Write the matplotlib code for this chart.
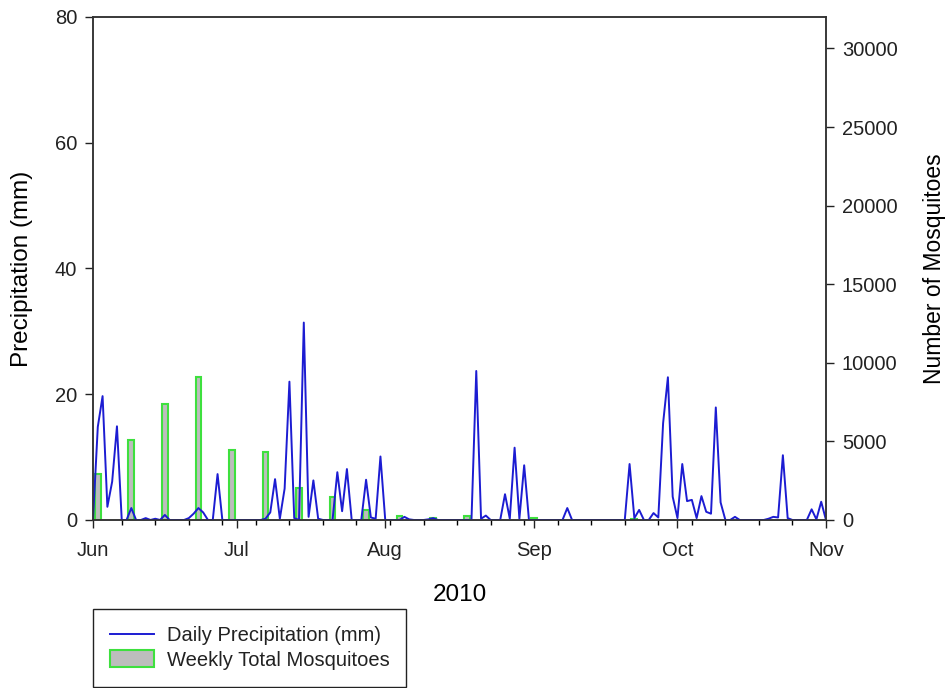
import matplotlib
matplotlib.use("Agg")
import matplotlib.pyplot as plt
import matplotlib.dates as mdates
import numpy as np
import pandas as pd

# daily precipitation (mm), 1 Jun 2010 .. 1 Nov 2010
precip = [
    0, 14.8, 19.7, 2.1, 6.1, 14.9, 0, 0, 1.9, 0,            # Jun 1-10
    0, 0.3, 0, 0.2, 0, 0.8, 0, 0, 0, 0,                    # Jun 11-20
    0.3, 1.0, 1.9, 1.2, 0, 0, 7.3, 0, 0, 0,                # Jun 21-30
    0, 0, 0, 0, 0, 0, 0.2, 1.2, 6.5, 0.2,                  # Jul 1-10
    5.0, 22.0, 0.3, 0, 31.4, 0.5, 6.3, 0.2, 0, 0,          # Jul 11-20
    0, 7.6, 1.4, 8.1, 0, 0, 0, 6.4, 0.4, 0.2, 10.1,        # Jul 21-31
    0, 0, 0, 0, 0.5, 0.1, 0, 0, 0, 0.1,                    # Aug 1-10
    0.3, 0, 0, 0, 0, 0, 0, 0, 0, 23.7,                     # Aug 11-20
    0.2, 0.7, 0, 0, 0, 4.1, 0.2, 11.5, 0.2, 8.7, 0,        # Aug 21-31
    0, 0, 0, 0, 0, 0, 0, 1.9, 0, 0,                        # Sep 1-10
    0, 0, 0, 0, 0, 0, 0, 0, 0, 0,                          # Sep 11-20
    8.9, 0.3, 1.6, 0, 0, 1.1, 0.4, 15.4, 22.7, 3.7,        # Sep 21-30
    0.3, 8.9, 3.0, 3.2, 0.3, 3.8, 1.3, 1.0, 17.9, 2.8,     # Oct 1-10
    0, 0, 0.5, 0, 0, 0, 0, 0, 0, 0.2,                      # Oct 11-20
    0.5, 0.4, 10.3, 0.3, 0, 0, 0, 0, 1.7, 0.1, 2.9,        # Oct 21-31
    0,                                                     # Nov 1
]
days = pd.date_range("2010-06-01", periods=len(precip), freq="D")

# weekly total mosquitoes
week_dates = pd.to_datetime([
    "2010-06-02", "2010-06-09", "2010-06-16", "2010-06-23", "2010-06-30",
    "2010-07-07", "2010-07-14", "2010-07-21", "2010-07-28", "2010-08-04",
    "2010-08-11", "2010-08-18", "2010-09-01", "2010-09-22",
])
mosquitoes = [2900, 5090, 7380, 9110, 4450, 4350, 2010, 1460, 640, 230,
              150, 230, 100, 60]

plt.rcParams["font.family"] = ["Liberation Sans", "DejaVu Sans"]
plt.rcParams["text.color"] = "#222222"

fig = plt.figure(figsize=(9.48, 6.88), dpi=100)
ax = fig.add_axes([0.0981, 0.2442, 0.7732, 0.7311])
ax2 = ax.twinx()

bars = ax2.bar(week_dates, mosquitoes, width=1.2, color="#bdbdbd",
               edgecolor="#3ee03e", linewidth=1.5,
               label="Weekly Total Mosquitoes")
line, = ax.plot(days, precip, color="#1c1cd2", lw=1.4,
                label="Daily Precipitation (mm)")

# line above the bars
ax.set_zorder(ax2.get_zorder() + 1)
ax.patch.set_visible(False)

ax.set_xlim(pd.Timestamp("2010-06-01"), pd.Timestamp("2010-11-01"))
ax.set_ylim(0, 80)
ax2.set_ylim(0, 32000)
ax.set_yticks([0, 20, 40, 60, 80])
ax2.set_yticks(np.arange(0, 30001, 5000))

ax.xaxis.set_major_locator(mdates.MonthLocator())
ax.xaxis.set_major_formatter(mdates.DateFormatter("%b"))
ax.xaxis.set_minor_locator(mdates.WeekdayLocator(byweekday=mdates.MO))

ax.tick_params(axis="x", which="major", length=6, width=1, pad=9,
               labelsize=14.5, colors="#222222")
ax.tick_params(axis="x", which="minor", length=3.5, width=1)
ax.tick_params(axis="y", length=5.5, width=1, labelsize=14.5, pad=6,
               colors="#222222")
ax2.tick_params(axis="y", length=5.5, width=1, labelsize=14.5, pad=6,
                colors="#222222")

for a in (ax, ax2):
    for s in a.spines.values():
        s.set_color("#333333")
        s.set_linewidth(1.1)

ax.set_ylabel("Precipitation (mm)", fontsize=17.5)
ax.yaxis.set_label_coords(-0.082, 0.5)
ax2.set_ylabel("Number of Mosquitoes", fontsize=16.5, rotation=90)
ax2.yaxis.set_label_coords(1.132, 0.5)
ax.set_xlabel("2010", fontsize=17.5)
ax.xaxis.set_label_coords(0.5, -0.127)

fig.legend([line, bars], ["Daily Precipitation (mm)", "Weekly Total Mosquitoes"],
           loc="upper left", bbox_to_anchor=(0.0981, 0.1148),
           fontsize=14.5, frameon=True, fancybox=False, edgecolor="#222222",
           framealpha=1, handlelength=2.2, handleheight=0.9,
           handletextpad=0.6, borderpad=0.85, labelspacing=0.24,
           borderaxespad=0)

fig.savefig("out.png", dpi=100)
